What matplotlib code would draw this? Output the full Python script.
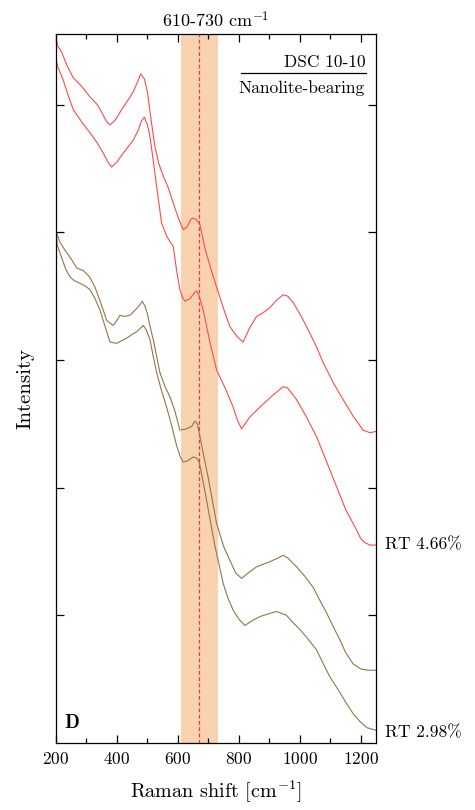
"""
Raman spectra, DSC 10-10 nanolite-bearing (panel D).
"""

import numpy as np
import matplotlib
matplotlib.use('Agg')
import matplotlib.pyplot as plt

plt.rcParams['font.family'] = ['cmr10', 'DejaVu Serif']
plt.rcParams['mathtext.fontset'] = 'cm'
plt.rcParams['axes.unicode_minus'] = False
plt.rcParams['axes.formatter.use_mathtext'] = True

# spectra (Raman shift, intensity in arbitrary units)
red_top_x = [200.5, 205.0, 218.7, 235.0, 256.7, 285.0, 311.5, 335.0, 349.8, 365.0, 377.0, 395.0, 415.4,
             435.0, 453.4, 468.0, 478.0, 490.0, 500.0, 512.0, 524.6, 537.0, 551.8, 568.0, 584.6,
             600.0, 617.4, 630.0, 642.0, 650.2, 660.0, 672.1, 690.0, 710.0, 726.9, 750.0, 770.5,
             795.0, 814.1, 835.0, 858.0, 880.0, 901.6, 925.0, 945.2, 960.0, 978.0, 1005.0, 1032.8,
             1055.0, 1076.4, 1110.0, 1142.0, 1175.0, 1207.5, 1230.0, 1250.0]
red_top_y = [5.52, 5.46, 5.41, 5.31, 5.21, 5.14, 5.06, 5.00, 4.94, 4.87, 4.84, 4.88, 4.96,
             5.03, 5.10, 5.18, 5.24, 5.20, 5.10, 4.88, 4.67, 4.54, 4.44, 4.35, 4.23,
             4.12, 4.02, 4.04, 4.10, 4.11, 4.10, 4.06, 3.86, 3.70, 3.57, 3.40, 3.26,
             3.18, 3.14, 3.25, 3.34, 3.37, 3.41, 3.47, 3.51, 3.50, 3.45, 3.34, 3.21,
             3.10, 2.98, 2.82, 2.69, 2.56, 2.45, 2.43, 2.44]

red_low_x = [200.5, 205.0, 223.9, 240.0, 256.7, 285.0, 311.5, 335.0, 355.1, 370.0, 382.6, 400.0, 420.7,
             437.0, 453.4, 470.0, 480.0, 490.0, 500.0, 508.2, 518.0, 530.2, 546.6, 565.0, 584.6,
             595.7, 606.6, 615.0, 623.0, 640.0, 655.0, 661.3, 670.0, 683.0, 705.0, 726.9, 755.0,
             781.3, 795.0, 808.9, 835.0, 868.9, 905.0, 930.0, 945.2, 960.0, 989.2, 1020.0, 1054.8,
             1085.0, 1120.2, 1150.0, 1185.9, 1200.0, 1213.0, 1230.0, 1250.0]
red_low_y = [5.36, 5.30, 5.19, 5.07, 4.96, 4.86, 4.78, 4.70, 4.62, 4.55, 4.51, 4.55, 4.62,
             4.67, 4.72, 4.80, 4.87, 4.90, 4.84, 4.75, 4.58, 4.36, 4.07, 3.96, 3.89,
             3.70, 3.55, 3.49, 3.46, 3.48, 3.53, 3.54, 3.50, 3.39, 3.14, 2.92, 2.78,
             2.63, 2.53, 2.46, 2.55, 2.63, 2.71, 2.76, 2.79, 2.78, 2.69, 2.56, 2.40,
             2.22, 2.01, 1.83, 1.67, 1.60, 1.57, 1.55, 1.55]

brown_top_x = [200.5, 204.0, 213.1, 235.1, 250.0, 267.9, 289.5, 310.0, 327.9, 345.0, 366.2, 387.9, 400.0,
               409.8, 425.0, 442.6, 460.0, 475.0, 483.0, 492.0, 500.0, 508.0, 519.0, 541.0, 558.0,
               573.8, 590.0, 606.6, 628.5, 645.0, 655.7, 664.0, 672.1, 700.0, 726.9, 750.0, 770.5,
               790.0, 808.9, 830.0, 858.0, 901.6, 930.0, 945.2, 960.0, 989.2, 1015.0, 1043.6, 1065.0,
               1087.5, 1110.0, 1131.1, 1150.0, 1174.8, 1200.0, 1224.0, 1250.0]
brown_top_y = [4.02, 3.98, 3.92, 3.84, 3.79, 3.72, 3.70, 3.65, 3.57, 3.46, 3.31, 3.27, 3.31,
               3.35, 3.34, 3.35, 3.39, 3.43, 3.46, 3.42, 3.36, 3.27, 3.16, 2.90, 2.79,
               2.71, 2.60, 2.45, 2.46, 2.48, 2.52, 2.50, 2.40, 2.07, 1.72, 1.54, 1.43,
               1.33, 1.29, 1.33, 1.38, 1.42, 1.45, 1.47, 1.45, 1.38, 1.31, 1.22, 1.12,
               1.02, 0.91, 0.81, 0.71, 0.62, 0.58, 0.57, 0.57]

brown_low_x = [200.5, 204.0, 218.7, 232.0, 245.9, 260.0, 278.7, 295.0, 311.5, 328.0, 344.3, 360.0, 377.0,
               399.0, 415.0, 431.8, 450.0, 464.6, 478.0, 486.2, 495.0, 508.2, 518.0, 530.2, 545.0,
               563.0, 580.0, 595.7, 608.0, 617.4, 632.0, 650.2, 662.0, 669.8, 680.0, 694.1, 720.0,
               748.5, 765.0, 781.3, 800.0, 819.7, 845.0, 868.9, 895.0, 923.6, 956.4, 975.0, 1000.0,
               1025.0, 1054.8, 1075.0, 1098.4, 1125.0, 1153.1, 1175.0, 1196.7, 1220.0, 1250.0]
brown_low_y = [3.99, 3.90, 3.80, 3.71, 3.65, 3.62, 3.60, 3.58, 3.55, 3.48, 3.39, 3.27, 3.14,
               3.13, 3.15, 3.17, 3.20, 3.22, 3.25, 3.27, 3.24, 3.16, 3.04, 2.90, 2.77,
               2.63, 2.48, 2.33, 2.24, 2.20, 2.21, 2.24, 2.23, 2.20, 2.08, 1.90, 1.56,
               1.25, 1.13, 1.04, 0.97, 0.92, 0.96, 0.99, 1.01, 1.03, 1.00, 0.95, 0.89,
               0.82, 0.73, 0.63, 0.52, 0.42, 0.31, 0.23, 0.17, 0.12, 0.10]

band = (610, 730)
band_centre = 670
labels = ['RT 4.66%', 'RT 2.98%']

red = '#ff4a4a'
brown = '#8f7748'

fig = plt.figure(figsize=(4.75, 8.1), dpi=100)
ax = fig.add_axes([0.1179, 0.0827, 0.6737, 0.8753])

ax.axvspan(band[0], band[1], color='#f9d3b0', lw=0, zorder=0)
ax.axvline(band_centre, color='#e8383d', ls=(0, (3, 2)), lw=0.9, zorder=1)

ax.plot(red_top_x, red_top_y, color=red, lw=0.8)
ax.plot(red_low_x, red_low_y, color=red, lw=0.8)
ax.plot(brown_top_x, brown_top_y, color=brown, lw=0.8)
ax.plot(brown_low_x, brown_low_y, color=brown, lw=0.8)

ax.set_xlim(200, 1250)
ax.set_ylim(0, 5.552)
ax.set_xticks([200, 400, 600, 800, 1000, 1200])
ax.set_xticks(np.arange(300, 1250, 200), minor=True)
ax.set_yticks([1, 2, 3, 4, 5])
ax.set_yticklabels([])
ax.tick_params(which='both', direction='in', top=True, right=True, labelsize=12.5, width=0.9)
ax.tick_params(which='major', length=6)
ax.tick_params(which='minor', length=3.5)
ax.tick_params(axis='x', pad=6)
for s in ax.spines.values():
    s.set_linewidth(0.9)

ax.set_xlabel('Raman shift [cm$^{\\mathregular{-1}}$]', fontsize=14.5, labelpad=8)
ax.set_ylabel('Intensity', fontsize=15, labelpad=12)
ax.set_title('610-730 cm$^{\\mathregular{-1}}$', fontsize=13, pad=5)

ax.text(0.966, 0.9605, 'DSC 10-10', transform=ax.transAxes, ha='right', va='center', fontsize=12.5)
ax.plot([0.578, 0.969], [0.945, 0.945], transform=ax.transAxes, color='black', lw=0.9)
ax.text(0.966, 0.924, 'Nanolite-bearing', transform=ax.transAxes, ha='right', va='center', fontsize=12.5)

ax.text(1.029, 1.55, labels[0], transform=ax.get_yaxis_transform(), ha='left', va='center',
        fontsize=12.5, clip_on=False)
ax.text(1.029, 0.08, labels[1], transform=ax.get_yaxis_transform(), ha='left', va='center',
        fontsize=12.5, clip_on=False)
ax.text(0.025, 0.028, 'D', transform=ax.transAxes, ha='left', va='center', fontsize=14,
        family='cmb10')

fig.savefig('out.png', dpi=100)
